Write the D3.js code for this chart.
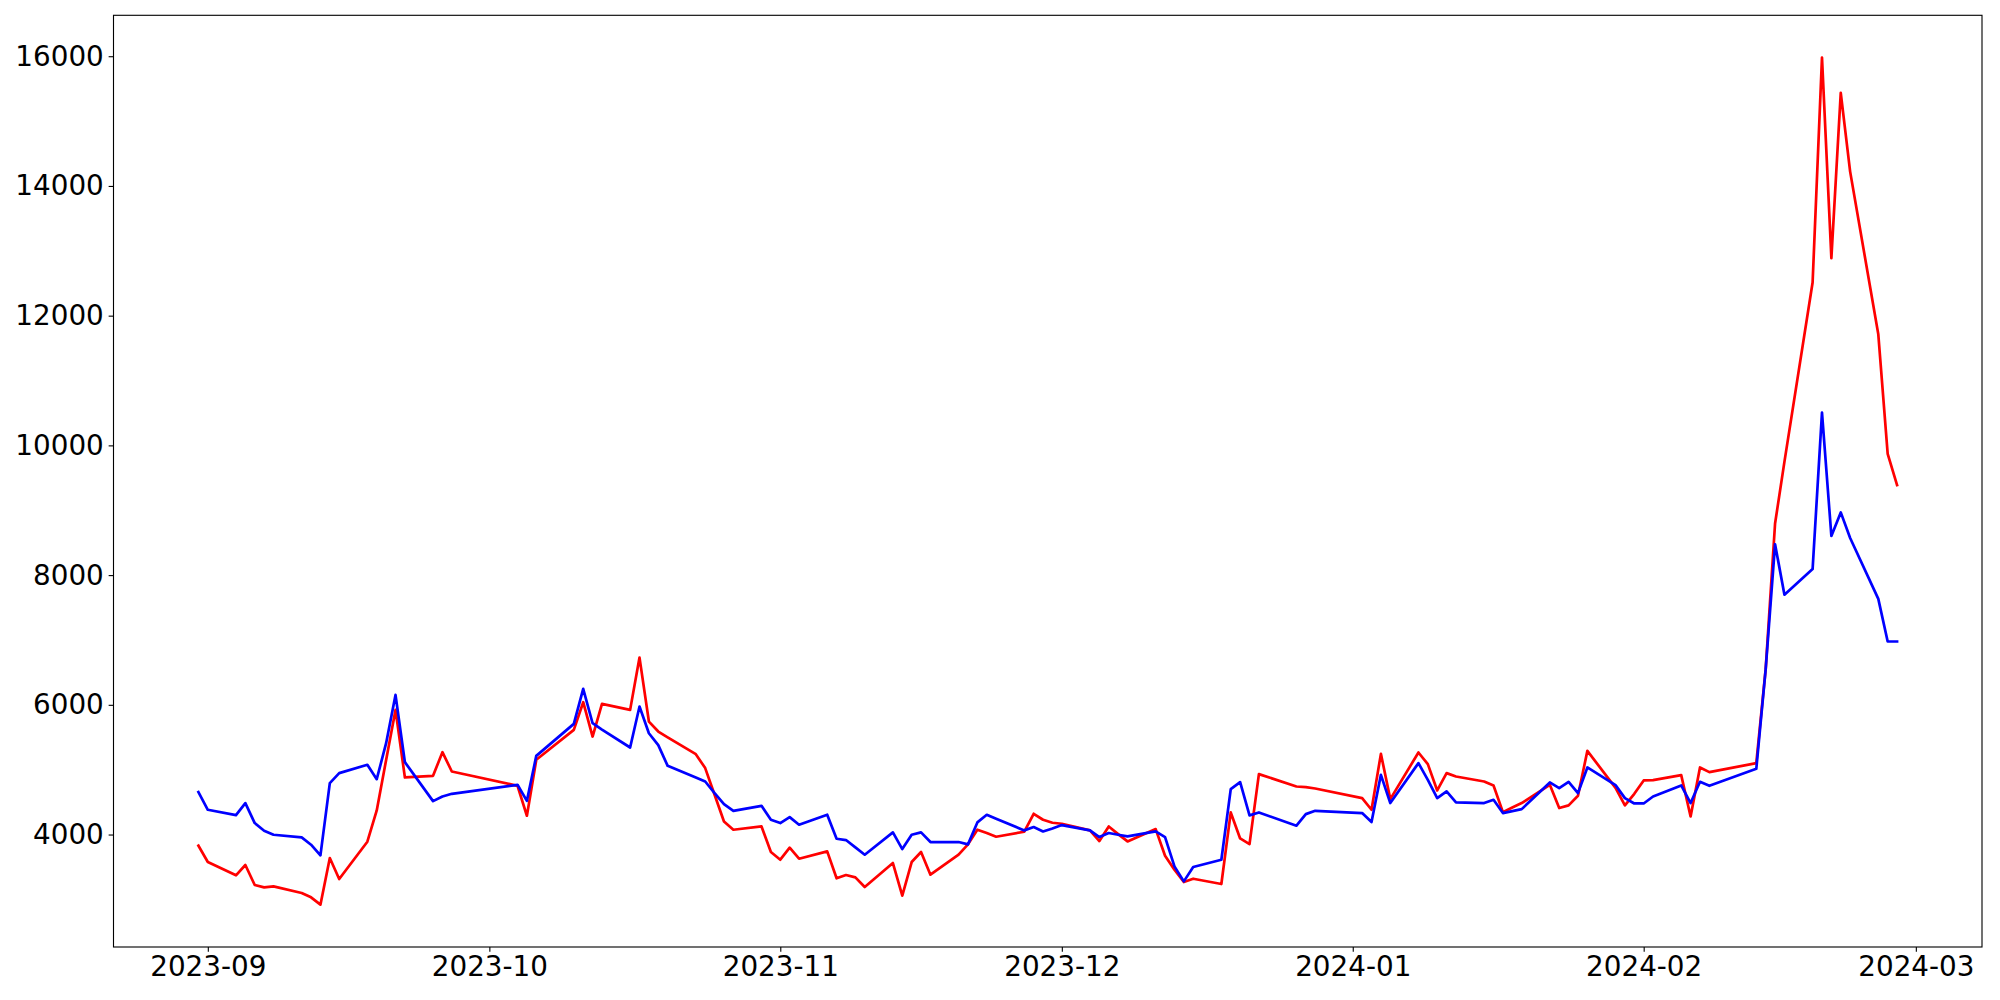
<!DOCTYPE html>
<html>
<head>
<meta charset="utf-8">
<script src="https://cdn.jsdelivr.net/npm/d3@7"></script>
<style>
html, body { margin: 0; padding: 0; background: #fff; }
svg { display: block; }
</style>
</head>
<body>
<svg id="chart" width="2000" height="1000"></svg>
<script>
const dates = [
"2023-08-31","2023-09-01","2023-09-04","2023-09-05","2023-09-06","2023-09-07","2023-09-08",
"2023-09-11","2023-09-12","2023-09-13","2023-09-14","2023-09-15",
"2023-09-18","2023-09-19","2023-09-20","2023-09-21","2023-09-22",
"2023-09-25","2023-09-26","2023-09-27",
"2023-10-04","2023-10-05","2023-10-06",
"2023-10-10","2023-10-11","2023-10-12","2023-10-13",
"2023-10-16","2023-10-17","2023-10-18","2023-10-19","2023-10-20",
"2023-10-23","2023-10-24","2023-10-25","2023-10-26","2023-10-27",
"2023-10-30","2023-10-31","2023-11-01","2023-11-02","2023-11-03",
"2023-11-06","2023-11-07","2023-11-08","2023-11-09","2023-11-10",
"2023-11-13","2023-11-14","2023-11-15","2023-11-16","2023-11-17",
"2023-11-20","2023-11-21","2023-11-22","2023-11-23","2023-11-24",
"2023-11-27","2023-11-28","2023-11-29","2023-11-30","2023-12-01",
"2023-12-04","2023-12-05","2023-12-06","2023-12-07","2023-12-08",
"2023-12-11","2023-12-12","2023-12-13","2023-12-14","2023-12-15",
"2023-12-18","2023-12-19","2023-12-20","2023-12-21","2023-12-22",
"2023-12-26","2023-12-27","2023-12-28",
"2024-01-02","2024-01-03","2024-01-04","2024-01-05",
"2024-01-08","2024-01-09","2024-01-10","2024-01-11","2024-01-12",
"2024-01-15","2024-01-16","2024-01-17","2024-01-18","2024-01-19",
"2024-01-22","2024-01-23","2024-01-24","2024-01-25","2024-01-26",
"2024-01-29","2024-01-30","2024-01-31","2024-02-01","2024-02-02",
"2024-02-05","2024-02-06","2024-02-07","2024-02-08",
"2024-02-13","2024-02-14","2024-02-15","2024-02-16",
"2024-02-19","2024-02-20","2024-02-21","2024-02-22","2024-02-23",
"2024-02-26","2024-02-27","2024-02-28"
];

const redValues = [
3828,3576,3371,3530,3222,3186,3201,
3099,3032,2919,3638,3314,
3889,4372,5150,5922,4880,
4905,5270,4972,
4751,4290,5152,
5614,6040,5511,6014,
5922,6728,5742,5588,5498,
5239,5024,4613,4202,4074,
4125,3730,3612,3797,3627,
3740,3325,3376,3340,3191,
3561,3058,3576,3730,3381,
3689,3848,4074,4023,3966,
4043,4320,4228,4182,4166,
4064,3899,4125,4007,3894,
4084,3674,3458,3268,3319,
3237,4341,3940,3853,4931,
4741,4730,4710,
4562,4382,5244,4546,
5265,5085,4680,4947,4895,
4818,4757,4346,4418,4485,
4767,4408,4449,4597,5290,
4720,4449,4628,4834,4839,
4916,4279,5034,4962,
5101,6550,8795,9750,
12511,15978,12888,15435,14221,
11713,9868,9389
];

const blueValues = [
4654,4382,4300,4485,4177,4059,3997,
3956,3843,3679,4793,4947,
5075,4854,5408,6153,5116,
4515,4587,4628,
4767,4520,5213,
5706,6245,5716,5619,
5342,5973,5562,5378,5059,
4880,4818,4639,4469,4366,
4443,4228,4177,4269,4151,
4305,3935,3915,3802,3689,
4033,3776,3997,4033,3884,
3884,3848,4187,4305,4243,
4064,4115,4048,4094,4146,
4064,3961,4023,3997,3971,
4048,3961,3509,3278,3499,
3612,4700,4808,4295,4341,
4136,4315,4366,
4331,4192,4921,4485,
5101,4844,4562,4664,4495,
4485,4536,4331,4361,4392,
4803,4716,4813,4639,5034,
4762,4562,4479,4479,4587,
4757,4485,4813,4751,
5013,6550,8476,7697,
8093,10506,8604,8967,8572,
7634,6976,6976
];

const yTickValues = [4000, 6000, 8000, 10000, 12000, 14000, 16000];
const xTickFormat = "%Y-%m";

const W = 2000, H = 1000;
const margin = { left: 113.5, right: 2000 - 1982, top: 15.3, bottom: 1000 - 947 };
const plotW = W - margin.left - margin.right;
const plotH = H - margin.top - margin.bottom;

const parse = d3.timeParse("%Y-%m-%d");
const xs = dates.map(parse);

const red = xs.map((d, i) => ({ date: d, value: redValues[i] }));
const blue = xs.map((d, i) => ({ date: d, value: blueValues[i] }));

// matplotlib-like 5% margins
const [x0, x1] = d3.extent(xs);
const xPad = (x1 - x0) * 0.05;
const allVals = redValues.concat(blueValues);
const [y0, y1] = d3.extent(allVals);
const yPad = (y1 - y0) * 0.05;

const x = d3.scaleTime()
  .domain([new Date(+x0 - xPad), new Date(+x1 + xPad)])
  .range([0, plotW]);
const y = d3.scaleLinear()
  .domain([y0 - yPad, y1 + yPad])
  .range([plotH, 0]);

const svg = d3.select("#chart");
svg.append("rect").attr("width", W).attr("height", H).attr("fill", "#fff");
const g = svg.append("g").attr("transform", `translate(${margin.left},${margin.top})`);

const line = d3.line().x(d => x(d.date)).y(d => y(d.value));

g.append("path").datum(red)
  .attr("fill", "none").attr("stroke", "#ff0000")
  .attr("stroke-width", 2.7).attr("stroke-linejoin", "round").attr("stroke-linecap", "square")
  .attr("d", line);
g.append("path").datum(blue)
  .attr("fill", "none").attr("stroke", "#0000ff")
  .attr("stroke-width", 2.7).attr("stroke-linejoin", "round").attr("stroke-linecap", "square")
  .attr("d", line);

const fontSize = "27.8px";
const tickLen = 4.86, tickPad = 4.86;

const xAxis = g.append("g")
  .attr("transform", `translate(0,${plotH})`)
  .call(d3.axisBottom(x).ticks(d3.timeMonth.every(1)).tickFormat(d3.timeFormat(xTickFormat))
    .tickSize(tickLen).tickPadding(tickPad));
const yAxis = g.append("g")
  .call(d3.axisLeft(y).tickValues(yTickValues).tickFormat(d3.format("d"))
    .tickSize(tickLen).tickPadding(tickPad));

[xAxis, yAxis].forEach(ax => {
  ax.select(".domain").remove();
  ax.selectAll(".tick line").attr("stroke", "#000").attr("stroke-width", 1.11);
  ax.selectAll(".tick text")
    .attr("fill", "#000")
    .style("font-family", "'DejaVu Sans', sans-serif")
    .style("font-size", fontSize);
});

g.append("rect")
  .attr("x", 0).attr("y", 0).attr("width", plotW).attr("height", plotH)
  .attr("fill", "none").attr("stroke", "#000").attr("stroke-width", 1.11);
</script>
</body>
</html>
